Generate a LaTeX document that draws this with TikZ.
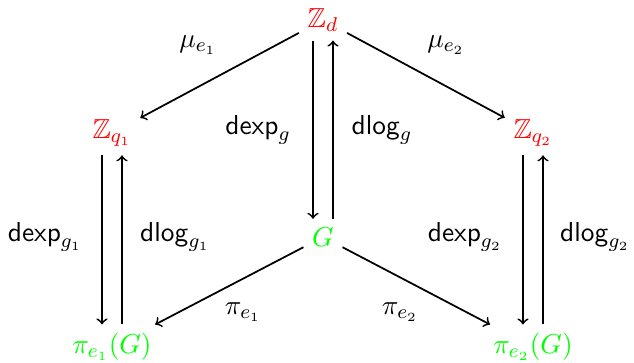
\documentclass[tikz,border=0pt]{standalone}
\usepackage{amssymb}
\begin{document}
\begin{tikzpicture}[x=0.4pt,y=-0.4pt,
  every node/.style={font=\fontsize{11}{13}\selectfont},
  ar/.style={->,line width=0.7pt},
  rd/.style={text=red},
  gn/.style={text=green},
  lab/.style={inner sep=1pt}]
\useasboundingbox (0,0) rectangle (634,362);
\node[rd] (zd)  at (323,20)  {$\mathbb{Z}_d$};
\node[rd] (zq1) at (112,133) {$\mathbb{Z}_{q_1}$};
\node[rd] (zq2) at (533,133) {$\mathbb{Z}_{q_2}$};
\node[gn] (g)   at (323,237) {$G$};
\node[gn] (pe1) at (112,347) {$\pi_{e_1}(G)$};
\node[gn] (pe2) at (533,347) {$\pi_{e_2}(G)$};
\draw[ar] (zd) -- (zq1);
\draw[ar] (zd) -- (zq2);
\draw[ar] (g) -- (pe1);
\draw[ar] (g) -- (pe2);
\draw[ar] ([xshift=-4pt]zd.south) -- ([xshift=-4pt]g.north);
\draw[ar] ([xshift=4pt]g.north) -- ([xshift=4pt]zd.south);
\draw[ar] ([xshift=-4pt]zq1.south) -- ([xshift=-4pt]pe1.north);
\draw[ar] ([xshift=4pt]pe1.north) -- ([xshift=4pt]zq1.south);
\draw[ar] ([xshift=-4pt]zq2.south) -- ([xshift=-4pt]pe2.north);
\draw[ar] ([xshift=4pt]pe2.north) -- ([xshift=4pt]zq2.south);
\node[lab] (l1) at (198,45) {$\mu_{e_1}$};
\node[lab] (l2) at (446,45) {$\mu_{e_2}$};
\node[lab] (l3) at (258,130) {$\mathsf{dexp}_g$};
\node[lab] (l4) at (382,130) {$\mathsf{dlog}_g$};
\node[lab] (l5) at (45,237) {$\mathsf{dexp}_{g_1}$};
\node[lab] (l6) at (175,237) {$\mathsf{dlog}_{g_1}$};
\node[lab] (l7) at (465,237) {$\mathsf{dexp}_{g_2}$};
\node[lab] (l8) at (595,237) {$\mathsf{dlog}_{g_2}$};
\node[lab] (l9) at (243,312) {$\pi_{e_1}$};
\node[lab] (l10) at (400,312) {$\pi_{e_2}$};
\end{tikzpicture}
\end{document}
